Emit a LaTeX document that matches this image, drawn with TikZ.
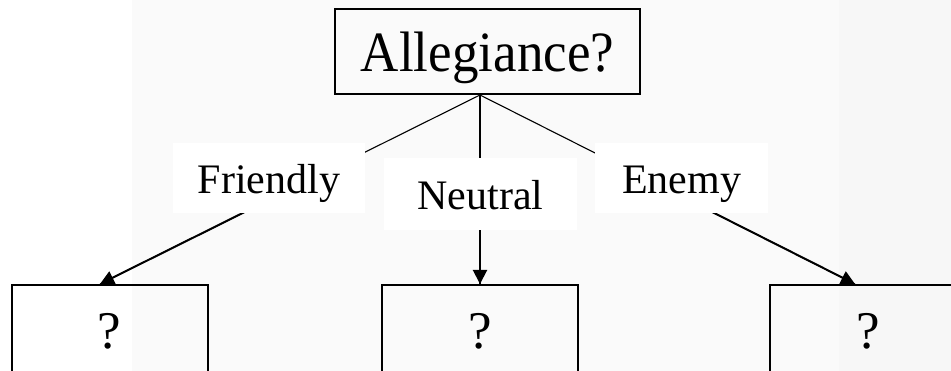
\documentclass[tikz,border=0pt]{standalone}
\usepackage{fontspec}
\setmainfont{Liberation Serif}
\usetikzlibrary{arrows.meta,calc}
\pgfdeclarelayer{bg}
\pgfdeclarelayer{lines}
\pgfsetlayers{bg,lines,main}
\definecolor{bgmid}{HTML}{FAFAFA}
\definecolor{bgright}{HTML}{F7F7F7}
\tikzset{
  qbox/.style={draw=black, line width=2pt, inner sep=0pt, align=center},
  toptext/.style={qbox, minimum width=305pt, minimum height=85pt, text height=63pt, text depth=22pt,
    font=\fontsize{57}{60}\selectfont},
  childbox/.style={qbox, minimum width=196pt, minimum height=90pt, text height=64pt, text depth=26pt,
    font=\fontsize{53}{60}\selectfont},
  lab/.style={fill=white, inner sep=0pt, font=\fontsize{42}{48}\selectfont},
  thinline/.style={line width=1.1pt, black},
  thickarrow/.style={line width=2pt, black, -{Triangle[length=14pt,width=14pt]}}
}
\begin{document}
\begin{tikzpicture}[x=1pt,y=-1pt]
\useasboundingbox (0,0) rectangle (951,371);
\begin{pgfonlayer}{bg}
  \fill[white] (0,0) rectangle (132,371);
  \fill[bgmid] (132,0) rectangle (839,371);
  \fill[bgright] (839,0) rectangle (951,371);
\end{pgfonlayer}

\node[toptext] (top) at (487.5,51.5) {\scalebox{0.93}[1]{Allegiance?}};

\node[lab, minimum width=192pt, minimum height=70pt, text height=51pt, text depth=19pt] (friendly) at (269,178) {Friendly};
\node[lab, minimum width=193pt, minimum height=72pt, text height=52pt, text depth=20pt] (neutral) at (480.5,194) {Neutral};
\node[lab, minimum width=173pt, minimum height=70pt, text height=51pt, text depth=19pt] (enemy) at (681.5,178) {Enemy};

\node[childbox] (c1) at (109.5,330) {?};
\node[childbox] (c2) at (480,330) {?};
\node[childbox, minimum width=197pt] (c3) at (868.5,330) {?};

\coordinate (apex) at ($(top.south)+(-7.5,0)$);
\coordinate (t1) at ($(c1.north)+(-9.5,0)$);
\coordinate (t2) at (c2.north);
\coordinate (t3) at ($(c3.north)+(-13.5,0)$);

\begin{pgfonlayer}{lines}
  \draw[thinline] (apex) -- (t1);
  \draw[thinline] (apex) -- (t2);
  \draw[thinline] (apex) -- (t3);
  \draw[thickarrow] ($(apex)!0.6!(t1)$) -- (t1);
  \draw[thickarrow] ($(apex)!0.7!(t2)$) -- (t2);
  \draw[thickarrow] ($(apex)!0.6!(t3)$) -- (t3);
\end{pgfonlayer}
\end{tikzpicture}
\end{document}
